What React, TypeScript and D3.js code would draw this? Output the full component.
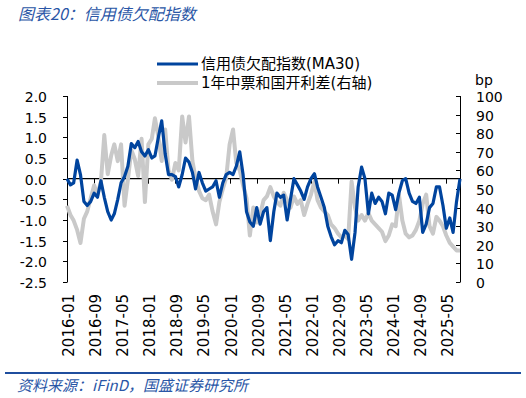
import React, { useEffect, useRef } from 'react';
import * as d3 from 'd3';

// 信用债欠配指数(MA30), monthly readings from 2016-01 to 2025-09
const indexValues = [
  0.0, -0.15, -0.1, 0.45, 0.1, -0.55, -0.65, -0.55, -0.35, -0.45,
  -0.05, -0.45, -0.8, -1.0, -0.85, -0.5, -0.1, 0.05, 0.3, 0.85,
  0.75, 0.9, 0.65, 0.55, 0.7, 0.5, 0.55, 1.0, 1.4, 0.6,
  0.1, 0.1, 0.05, -0.2, 0.1, 0.5, 0.4, 0.15, -0.25, 0.15,
  -0.1, -0.3, -0.25, -0.2, -0.05, -0.45, -0.1, 0.1, 0.15, 0.1,
  0.3, 0.65, 0.1, -0.8, -1.05, -1.15, -0.7, -1.1, -0.8, -0.7,
  -1.5, -0.8, -0.35, -0.45, -0.4, -1.0, -0.5, 0.0, -0.15, -0.3,
  -0.5, -0.2, 0.0, 0.12, -0.2, -0.45, -0.7, -1.15, -1.4, -1.6,
  -1.5, -1.55, -1.25, -1.35, -1.95, -1.3, -0.2, 0.28, 0.0, -0.85,
  -0.35, -0.6, -0.45, -0.55, -0.85, -0.35, -0.4, -0.75, -0.35, -0.05,
  0.0, -0.35, -0.55, -0.6, -0.45, -1.3, -1.1, -0.7, -0.6, -0.2,
  -0.2, -0.65, -1.2, -0.95, -1.3, -0.55, 0.0,
];

// 1年中票和国开利差 (bp, right axis)
const spreadValues = [
  41, 36, 33, 28, 21, 34, 38, 45, 52, 47,
  54, 79, 58, 68, 74, 65, 74, 41, 55, 71,
  66, 57, 77, 43, 74, 77, 88, 78, 65, 82,
  60, 55, 64, 60, 89, 75, 89, 65, 56, 49,
  45, 44, 47, 38, 31, 43, 50, 56, 74, 82,
  64, 60, 52, 45, 25, 40, 32, 36, 44, 46,
  51, 46, 43, 41, 48, 44, 40, 46, 42, 44,
  36, 42, 47, 54, 44, 40, 38, 36, 31, 29,
  26, 24, 25, 23, 54, 40, 33, 36, 33, 37,
  33, 31, 29, 27, 22, 25, 31, 30, 47, 33,
  26, 24, 25, 28, 33, 42, 47, 30, 26, 35,
  33, 30, 25, 21, 19, 17, 17,
];

const xTickLabels = [
  '2016-01', '2016-09', '2017-05', '2018-01', '2018-09', '2019-05', '2020-01', '2020-09',
  '2021-05', '2022-01', '2022-09', '2023-05', '2024-01', '2024-09', '2025-05',
];
const leftTicks = [2.0, 1.5, 1.0, 0.5, 0.0, -0.5, -1.0, -1.5, -2.0, -2.5];
const rightTicks = [100, 90, 80, 70, 60, 50, 40, 30, 20, 10, 0];

const seriesNames = ['信用债欠配指数(MA30)', '1年中票和国开利差(右轴)'];

const W = 526;
const H = 398;
const FONT = '"DejaVu Sans", Verdana, "Noto Sans CJK SC", sans-serif';
const BLUE = '#00449E';
const GREY = '#C9C9C9';

const App = () => {
  const svgRef = useRef<SVGSVGElement>(null);

  useEffect(() => {
    const svg = d3.select(svgRef.current);
    svg.selectAll('*').remove();

    const plot = { left: 67, right: 460, top: 96, bottom: 282 };
    const parse = d3.timeParse('%Y-%m');
    const months = d3.timeMonth.range(new Date(2016, 0, 1), new Date(2025, 9, 1));

    const x = d3.scaleTime()
      .domain([months[0], months[months.length - 1]])
      .range([plot.left, plot.right]);
    const yL = d3.scaleLinear().domain([-2.5, 2.0]).range([plot.bottom, plot.top]);
    const yR = d3.scaleLinear().domain([0, 100]).range([plot.bottom, plot.top]);

    svg.append('rect').attr('width', W).attr('height', H).attr('fill', '#fff');

    // title
    svg.append('text')
      .attr('x', 18).attr('y', 20)
      .style('font-family', '"Noto Sans CJK SC", sans-serif')
      .style('font-size', '16px')
      .style('font-style', 'italic')
      .style('fill', '#2A56A6')
      .text('图表20：信用债欠配指数');

    // zero axis
    svg.append('line')
      .attr('x1', plot.left).attr('x2', plot.right)
      .attr('y1', yL(0)).attr('y2', yL(0))
      .attr('stroke', '#000').attr('stroke-width', 1.2);

    xTickLabels.forEach(lbl => {
      const px = Math.round(x(parse(lbl))) + 0.5;
      svg.append('line')
        .attr('x1', px).attr('x2', px)
        .attr('y1', yL(0)).attr('y2', yL(0) + 5)
        .attr('stroke', '#000');
      svg.append('text')
        .attr('transform', `translate(${px + 1},294) rotate(-90)`)
        .attr('text-anchor', 'end')
        .attr('dy', '0.36em')
        .style('font-family', FONT)
        .style('font-size', '15px')
        .style('fill', '#000')
        .text(lbl);
    });

    // left axis
    svg.append('line')
      .attr('x1', plot.left + 0.5).attr('x2', plot.left + 0.5)
      .attr('y1', yL(2.0)).attr('y2', yL(-2.5))
      .attr('stroke', '#000');
    leftTicks.forEach(t => {
      const py = Math.round(yL(t)) + 0.5;
      svg.append('line')
        .attr('x1', plot.left - 4).attr('x2', plot.left + 0.5)
        .attr('y1', py).attr('y2', py)
        .attr('stroke', '#000');
      svg.append('text')
        .attr('x', 47).attr('y', py)
        .attr('text-anchor', 'end')
        .attr('dy', '0.36em')
        .style('font-family', FONT)
        .style('font-size', '14px')
        .style('fill', '#000')
        .text(t.toFixed(1));
    });

    // right axis
    svg.append('line')
      .attr('x1', plot.right + 0.5).attr('x2', plot.right + 0.5)
      .attr('y1', yR(100)).attr('y2', yR(0))
      .attr('stroke', '#000');
    rightTicks.forEach(t => {
      const py = Math.round(yR(t)) + 0.5;
      svg.append('line')
        .attr('x1', plot.right - 4).attr('x2', plot.right + 0.5)
        .attr('y1', py).attr('y2', py)
        .attr('stroke', '#000');
      svg.append('text')
        .attr('x', 476).attr('y', py)
        .attr('dy', '0.36em')
        .style('font-family', FONT)
        .style('font-size', '14px')
        .style('fill', '#000')
        .text(t);
    });
    svg.append('text')
      .attr('x', 475).attr('y', 85)
      .style('font-family', FONT)
      .style('font-size', '14px')
      .style('fill', '#000')
      .text('bp');

    // series
    const greyLine = d3.line<number>()
      .x((d, i) => x(months[i]))
      .y(d => yR(d));
    const blueLine = d3.line<number>()
      .x((d, i) => x(months[i]))
      .y(d => yL(d));

    svg.append('path')
      .datum(spreadValues)
      .attr('d', greyLine)
      .attr('fill', 'none')
      .attr('stroke', GREY)
      .attr('stroke-width', 4)
      .attr('stroke-linejoin', 'round');

    svg.append('path')
      .datum(indexValues)
      .attr('d', blueLine)
      .attr('fill', 'none')
      .attr('stroke', BLUE)
      .attr('stroke-width', 3.2)
      .attr('stroke-linejoin', 'round');

    // legend
    const legend = svg.append('g').attr('transform', 'translate(157,64)');
    [BLUE, GREY].forEach((c, i) => {
      legend.append('line')
        .attr('x1', 0).attr('x2', 41)
        .attr('y1', i * 19).attr('y2', i * 19)
        .attr('stroke', c)
        .attr('stroke-width', i === 0 ? 3.2 : 4);
      legend.append('text')
        .attr('x', 44).attr('y', i * 19)
        .attr('dy', '0.36em')
        .style('font-family', FONT)
        .style('font-size', '15px')
        .style('fill', '#000')
        .text(seriesNames[i]);
    });

    // source
    svg.append('line')
      .attr('x1', 5).attr('x2', 521)
      .attr('y1', 373).attr('y2', 373)
      .attr('stroke', '#1F4E9E')
      .attr('stroke-width', 2);
    svg.append('text')
      .attr('x', 17).attr('y', 391)
      .style('font-family', '"Noto Sans CJK SC", sans-serif')
      .style('font-size', '15px')
      .style('font-style', 'italic')
      .style('fill', '#2A56A6')
      .text('资料来源：iFinD，国盛证券研究所');
  }, []);

  return (
    <svg
      ref={svgRef}
      width={W}
      height={H}
      style={{ position: 'absolute', left: 0, top: 0, display: 'block' }}
    />
  );
};

export default App;
